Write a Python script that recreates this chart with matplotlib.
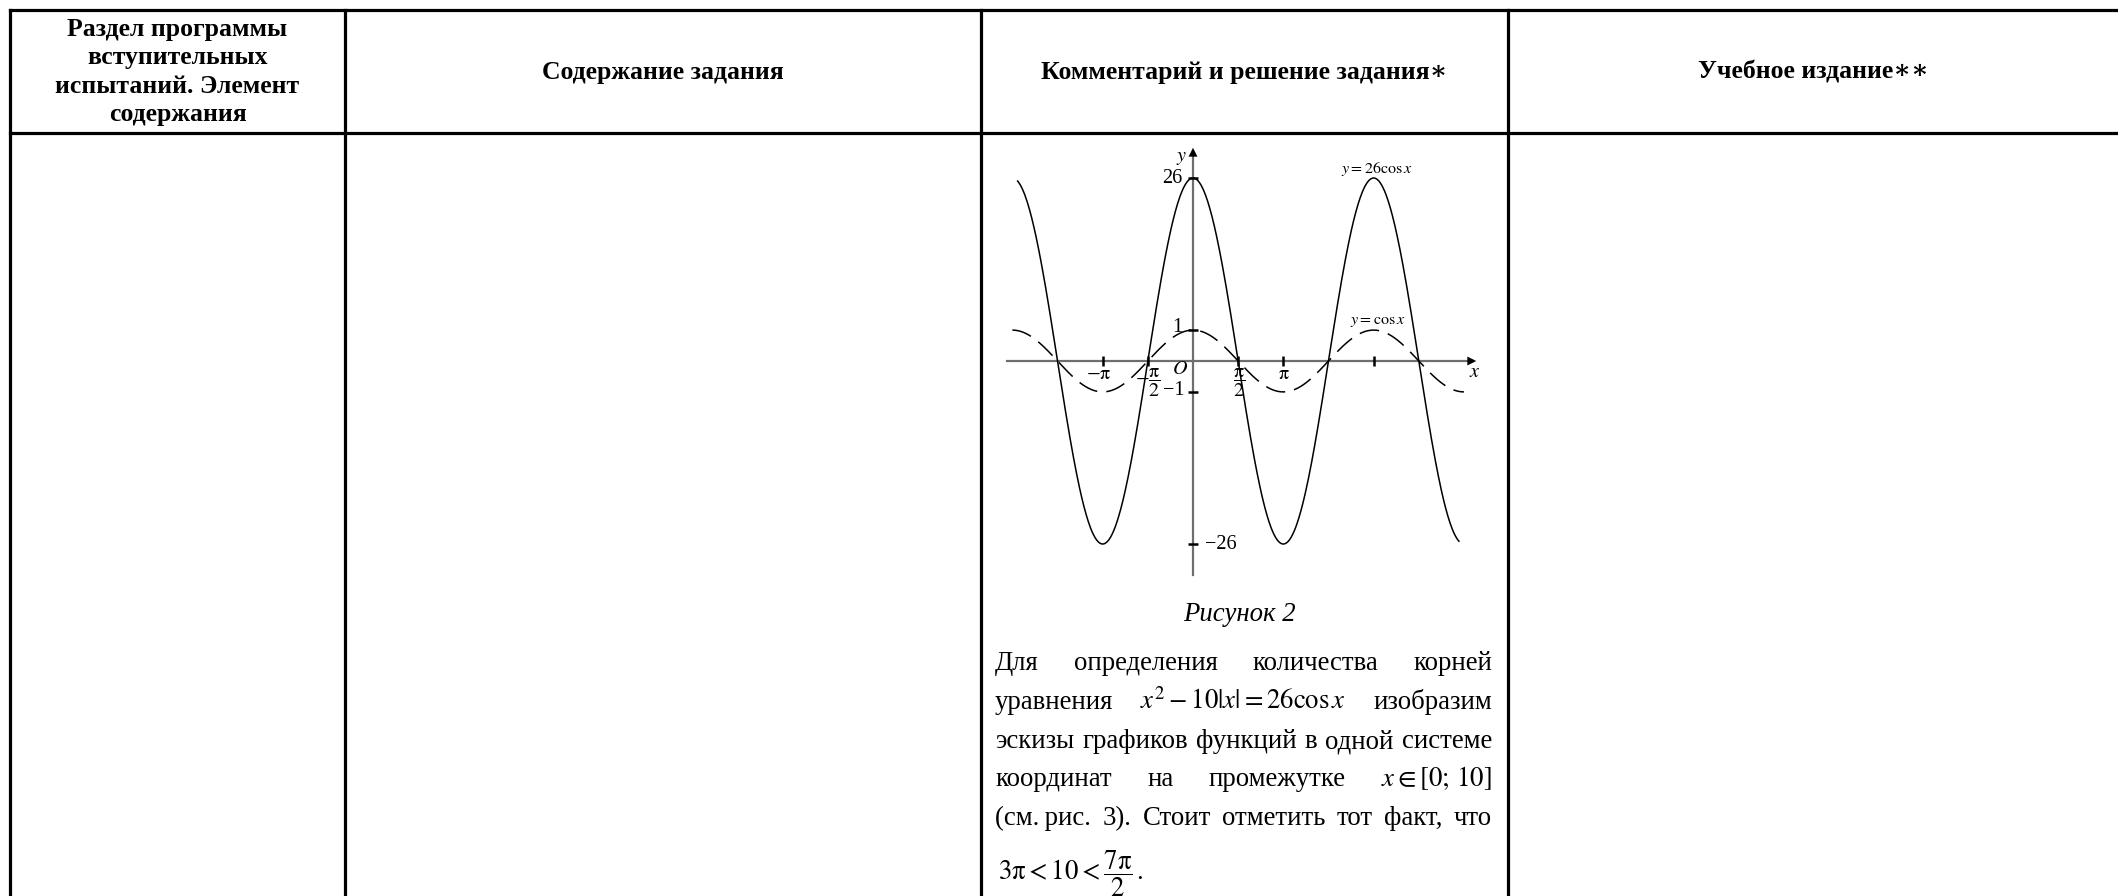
import numpy as np
import matplotlib
matplotlib.use('Agg')
import matplotlib.pyplot as plt

plt.rcParams['font.family'] = ['Liberation Serif', 'DejaVu Serif']
plt.rcParams['mathtext.fontset'] = 'stix'

W, H = 2118, 896

# table grid, px from top-left
col_x = [10, 345, 981, 1508]
row_y = [10, 133]
header_x = [177.5, 663, 1244.5, 1813]
headers = ['Раздел программы\nвступительных\nиспытаний. Элемент\nсодержания',
           'Содержание задания',
           'Комментарий и решение задания\u2217',
           'Учебное издание\u2217\u2217']

# sketch of y = 26cos x and y = cos x
AMP_BIG = 26
AMP_SMALL = 1
solid_range = (-6.1, 9.25)
dashed_range = (-2 * np.pi, 3 * np.pi)
x_ticks = [-np.pi, -np.pi / 2, np.pi / 2, np.pi, 2 * np.pi]
x_tick_labels = [(-np.pi - 0.13, r'$-\mathrm{\pi}$'), (-np.pi / 2, r'$-\dfrac{\mathrm{\pi}}{2}$'),
                 (np.pi / 2 + 0.03, r'$\dfrac{\mathrm{\pi}}{2}$'), (np.pi + 0.03, r'$\mathrm{\pi}$')]

caption = 'Рисунок 2'
para_lines = [
    ['Для', 'определения', 'количества', 'корней'],
    ['уравнения', r'$x^2-10|x|=26\mathrm{cos}\,x$', 'изобразим'],
    ['эскизы', 'графиков', 'функций', 'в', 'одной', 'системе'],
    ['координат', 'на', 'промежутке', r'$x\in\left[0;\,10\right]$'],
    ['(см.\u2009рис.', '3).', 'Стоит', 'отметить', 'тот', 'факт,', 'что'],
]
last_line = r'$3\mathrm{\pi}<10<\dfrac{7\mathrm{\pi}}{2}\,.$'

fig = plt.figure(figsize=(W / 100, H / 100), dpi=100)
bg = fig.add_axes([0, 0, 1, 1])
bg.set_xlim(0, W)
bg.set_ylim(H, 0)
bg.axis('off')

# table lines
lw_tab = 2.3
for y in row_y:
    bg.plot([col_x[0], W], [y, y], color='black', lw=lw_tab, solid_capstyle='projecting')
for x in col_x:
    bg.plot([x, x], [row_y[0], H], color='black', lw=lw_tab, solid_capstyle='projecting')

for i, (hx, text) in enumerate(zip(header_x, headers)):
    bg.text(hx, 72, text, ha='center', va='center', fontsize=18.5, fontweight='bold',
            linespacing=1.3)

# graph axes placed in pixel box
ox, oy = 1193, 361
px_x = 28.75
px_big = 183 / AMP_BIG
px_small = 30.9 / AMP_SMALL
left, right, top, bottom = 1000, 1485, 140, 580
rect = [left / W, 1 - bottom / H, (right - left) / W, (bottom - top) / H]

ax_big = fig.add_axes(rect)
ax_small = fig.add_axes(rect)
for ax, py in ((ax_big, px_big), (ax_small, px_small)):
    ax.set_xlim((left - ox) / px_x, (right - ox) / px_x)
    ax.set_ylim(-(bottom - oy) / py, (oy - top) / py)
    ax.axis('off')

axis_col = '#6e6e6e'
x0, x1 = (1007 - ox) / px_x, (1479 - ox) / px_x
yb0, yb1 = -(575 - oy) / px_big, (oy - 145) / px_big
ax_big.plot([x0, x1 - 0.2], [0, 0], color=axis_col, lw=1.6)
ax_big.plot([0, 0], [yb0, yb1 - 1.5], color=axis_col, lw=1.6)
ax_big.annotate('', xy=(x1, 0), xytext=(x1 - 0.45, 0),
                arrowprops=dict(arrowstyle='-|>', color='black', lw=0, mutation_scale=16))
ax_big.annotate('', xy=(0, yb1), xytext=(0, yb1 - 2.0),
                arrowprops=dict(arrowstyle='-|>', color='black', lw=0, mutation_scale=16))

ax_big.plot(x_ticks, np.zeros(len(x_ticks)), ls='none', marker='|', ms=7, mew=1.8, color='black')
ax_big.plot([0, 0], [AMP_BIG, -AMP_BIG], ls='none', marker='_', ms=7, mew=1.8, color='black')
ax_small.plot([0, 0], [AMP_SMALL, -AMP_SMALL], ls='none', marker='_', ms=7, mew=1.8, color='black')

xs = np.linspace(*solid_range, 600)
ax_big.plot(xs, AMP_BIG * np.cos(xs), color='black', lw=1.1)
xd = np.linspace(*dashed_range, 600)
ax_small.plot(xd, AMP_SMALL * np.cos(xd), color='black', lw=1.1, dashes=(13, 6))

fs_tick = 14.5
ax_big.text(-0.4, 28.9, '$y$', ha='center', va='center', fontsize=fs_tick)
ax_big.text(-0.38, AMP_BIG, str(AMP_BIG), ha='right', va='center', fontsize=fs_tick)
ax_big.text(0.42, -AMP_BIG, '\u2212' + str(AMP_BIG), ha='left', va='center', fontsize=fs_tick)
ax_small.text(-0.38, AMP_SMALL + 0.08, str(AMP_SMALL), ha='right', va='center', fontsize=fs_tick)
ax_small.text(-0.3, -AMP_SMALL + 0.05, '\u2212' + str(AMP_SMALL), ha='right', va='center', fontsize=fs_tick)
ax_small.text(-0.45, -0.29, '$O$', ha='center', va='center', fontsize=fs_tick)
ax_small.text(9.81, -0.36, '$x$', ha='center', va='center', fontsize=fs_tick)
for xv, lab in x_tick_labels:
    yv = -0.72 if 'frac' in lab else -0.45
    ax_small.text(xv, yv, lab, ha='center', va='center', fontsize=fs_tick)

ax_big.text(6.4, 27.3, r'$y=26\mathrm{cos}\,x$', ha='center', va='center', fontsize=11.5)
ax_small.text(6.43, 1.29, r'$y=\mathrm{cos}\,x$', ha='center', va='center', fontsize=11.5)

# caption and justified paragraph
fs_body = 19.3
bg.text(1239, 621, caption, ha='center', va='baseline', fontsize=fs_body, style='italic')

tx0, tx1 = 995, 1492
baselines = [670, 709, 748, 786.5, 825.4]
rows = []
for words, yb in zip(para_lines, baselines):
    rows.append([bg.text(tx0, yb, w, ha='left', va='baseline', fontsize=fs_body) for w in words])
bg.text(998, 879.5, last_line, ha='left', va='baseline', fontsize=fs_body)

fig.canvas.draw()
renderer = fig.canvas.get_renderer()
for texts in rows:
    widths = [t.get_window_extent(renderer).width for t in texts]
    gap = (tx1 - tx0 - sum(widths)) / (len(texts) - 1)
    x = tx0
    for t, w in zip(texts, widths):
        t.set_x(x)
        x += w + gap

fig.savefig('out.png', dpi=100, facecolor='white')
